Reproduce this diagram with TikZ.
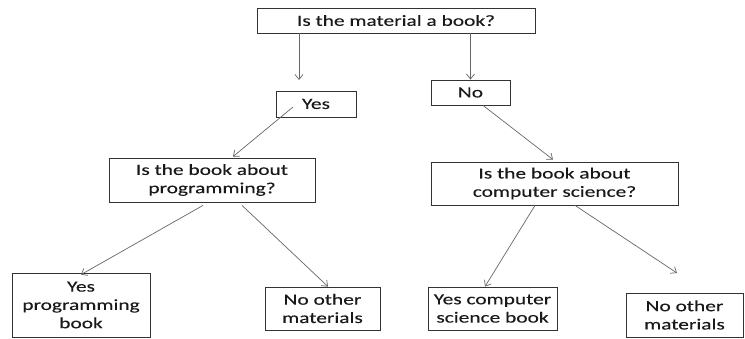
\documentclass[tikz,border=0pt]{standalone}
\usepackage{fontspec}
\setmainfont{Carlito}[FakeStretch=1.38,FakeBold=0.2]
\usetikzlibrary{arrows.meta}

\tikzset{
  qbox/.style={draw=black!80,line width=0.8pt,inner sep=0pt,align=center,
    text=black!90,font=\fontsize{15.5}{18.3}\selectfont},
  flow/.style={draw=black!60,line width=0.7pt,
    -{Straight Barb[length=5pt,width=8pt]}}
}

\begin{document}
\begin{tikzpicture}[x=1pt,y=-1pt]
  \useasboundingbox (0,0) rectangle (745,338);

  \node[qbox,minimum width=278pt,minimum height=25pt] (qbook) at (396,20.5) {Is the material a book?};
  \node[qbox,minimum width=80pt,minimum height=26pt] (yes) at (316,104) {Yes};
  \node[qbox,minimum width=79pt,minimum height=25pt] (no) at (470.5,92.5) {No};
  \node[qbox,minimum width=206pt,minimum height=44pt] (qprog) at (212,180) {Is the book about\\programming?};
  \node[qbox,minimum width=247pt,minimum height=43pt] (qcs) at (554.5,183.5) {Is the book about\\computer science?};
  \node[qbox,minimum width=138pt,minimum height=64pt] (progbook) at (81,305) {Yes\\programming\\book};
  \node[qbox,minimum width=115pt,minimum height=43pt] (otherA) at (322.5,308.5) {No other\\materials};
  \node[qbox,minimum width=129pt,minimum height=43pt] (csbook) at (492.5,308.5) {Yes computer\\science book};
  \node[qbox,minimum width=117pt,minimum height=44pt] (otherB) at (684.5,315) {No other\\materials};

  \coordinate (yesin) at (299,80);
  \coordinate (otherBin) at (677,273);

  \draw[flow] (qbook.south -| yesin) -- (yesin);
  \draw[flow] (qbook.south -| no.north) -- (no.north);
  \draw[flow] ([xshift=-23pt,yshift=-3pt]yes.center) -- ([xshift=21pt,yshift=1pt]qprog.north);
  \draw[flow] ([xshift=12.5pt]no.south) -- ([xshift=-1.5pt,yshift=2pt]qcs.north);
  \draw[flow] ([xshift=-9pt,yshift=-3pt]qprog.south) -- ([yshift=-2pt]progbook.north);
  \draw[flow] ([xshift=30pt,yshift=-3pt]qprog.south) -- ([xshift=5.5pt]otherA.north);
  \draw[flow] ([xshift=-19.5pt]qcs.south) -- ([xshift=-7.5pt]csbook.north);
  \draw[flow] ([xshift=20.5pt]qcs.south) -- (otherBin);
\end{tikzpicture}
\end{document}
